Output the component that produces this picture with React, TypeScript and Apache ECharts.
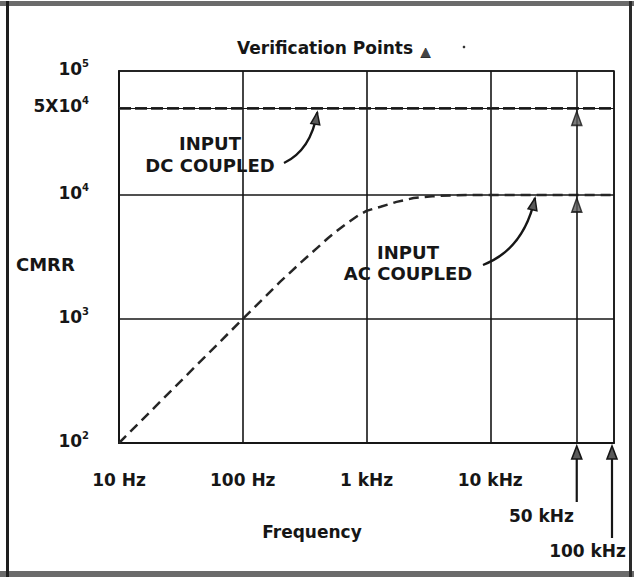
import { useEffect, useRef } from 'react';
import * as echarts from 'echarts';

const FONT = '"DejaVu Sans", "Liberation Sans", sans-serif';
const INK = '#161616';

// Axis ticks
const xTickValues = [10, 100, 1000, 10000];
const xTickLabels = ['10 Hz', '100 Hz', '1 kHz', '10 kHz'];
const yTickValues = [100, 1000, 10000, 100000];
const yTickExponents = ['2', '3', '4', '5'];

// Input AC coupled CMRR curve (frequency in Hz, CMRR)
const acFreq = [10, 100, 200, 300, 400, 490, 600, 700, 850, 1000, 1300, 1750, 2400, 3400, 5000, 7000, 10000, 50000, 100000];
const acCmrr = [100, 1000, 1990, 2900, 3750, 4500, 5300, 5950, 6800, 7450, 8050, 8800, 9450, 9770, 9950, 10000, 10000, 10000, 10000];

// Input DC coupled CMRR
const dcFreq = [10, 100000];
const dcCmrr = [50000, 50000];
const dcLevelLabel = { mant: '5X10', exp: '4' };

// Verification points
const verifyFreq = [50000, 50000];
const verifyCmrr = [50000, 10000];

// Marked frequencies below the axis
const markerFreqs = [50000, 100000];
const markerLabels = ['50 kHz', '100 kHz'];

// Annotation arrow targets (frequency, CMRR)
const dcArrowTarget = [400, 50000];
const acArrowTarget = [23000, 10000];

const richY = {
  b: { fontFamily: FONT, fontWeight: 'bold', fontSize: 17, color: INK, lineHeight: 20 },
  s: { fontFamily: FONT, fontWeight: 'bold', fontSize: 10, color: INK, lineHeight: 11, verticalAlign: 'top' },
};

function arrowHead(tip: number[], from: number[], len: number, half: number) {
  const dx = tip[0] - from[0];
  const dy = tip[1] - from[1];
  const d = Math.sqrt(dx * dx + dy * dy) || 1;
  const ux = dx / d, uy = dy / d;
  const bx = tip[0] - ux * len, by = tip[1] - uy * len;
  return [
    [tip[0], tip[1]],
    [bx - uy * half, by + ux * half],
    [bx + uy * half, by - ux * half],
  ];
}

export default function App() {
  const ref = useRef<HTMLDivElement>(null);
  useEffect(() => {
    if (!ref.current) return;
    const chart = echarts.init(ref.current, null, { renderer: 'svg' });
    chart.setOption({
      animation: false,
      backgroundColor: '#ffffff',
      grid: { left: 119, right: 20, top: 71, bottom: 135, show: true, borderColor: INK, borderWidth: 1.5 },
      xAxis: {
        type: 'log',
        logBase: 10,
        min: 10,
        max: 100000,
        axisLine: { show: true, lineStyle: { color: INK, width: 2 } },
        axisTick: { show: false },
        splitLine: { show: true, lineStyle: { color: INK, width: 1.6 } },
        axisLabel: {
          margin: 28,
          fontFamily: FONT,
          fontWeight: 'bold',
          fontSize: 17,
          color: INK,
          formatter: (v: number) => {
            const i = xTickValues.findIndex((t) => Math.abs(t - v) / t < 1e-6);
            return i >= 0 ? xTickLabels[i] : '';
          },
        },
      },
      yAxis: {
        type: 'log',
        logBase: 10,
        min: 100,
        max: 100000,
        axisLine: { show: true, lineStyle: { color: INK, width: 2 } },
        axisTick: { show: false },
        splitLine: { show: true, lineStyle: { color: INK, width: 1.6 } },
        axisLabel: {
          margin: 30,
          padding: [0, 0, 5, 0],
          formatter: (v: number) => {
            const i = yTickValues.findIndex((t) => Math.abs(t - v) / t < 1e-6);
            return i >= 0 ? `{b|10}{s|${yTickExponents[i]}}` : '';
          },
          rich: richY,
        },
      },
      series: [
        {
          name: 'Input DC coupled',
          type: 'line',
          data: dcFreq.map((f, i) => [f, dcCmrr[i]]),
          showSymbol: false,
          lineStyle: { color: '#262626', width: 2.6, type: [12, 4] },
          z: 4,
          markLine: {
            silent: true,
            symbol: ['none', 'none'],
            lineStyle: { color: INK, width: 1.2, type: 'solid' },
            label: { show: false },
            data: [
              {
                yAxis: dcCmrr[0],
                label: {
                  show: true,
                  position: 'start',
                  distance: 30,
                  padding: [0, 0, 5, 0],
                  formatter: `{b|${dcLevelLabel.mant}}{s|${dcLevelLabel.exp}}`,
                  rich: richY,
                },
              },
              { xAxis: markerFreqs[0], lineStyle: { width: 1.6 } },
            ],
          },
        },
        {
          name: 'Input AC coupled',
          type: 'line',
          data: acFreq.map((f, i) => [f, acCmrr[i]]),
          showSymbol: false,
          smooth: false,
          lineStyle: { color: '#262626', width: 2.5, type: [10, 6] },
          z: 4,
        },
        {
          name: 'Verification points',
          type: 'scatter',
          data: verifyFreq.map((f, i) => [f, verifyCmrr[i]]),
          symbol: 'triangle',
          symbolSize: [10, 14],
          symbolOffset: [0, 10],
          itemStyle: { color: '#5a5a5a', borderColor: INK, borderWidth: 1.6 },
          z: 5,
        },
      ],
    });

    const px = (p: number[]) => chart.convertToPixel({ xAxisIndex: 0, yAxisIndex: 0 }, p) as number[];
    const graphics: any[] = [];

    // frame
    graphics.push(
      { type: 'rect', shape: { x: 0, y: 1, width: 634, height: 5 }, style: { fill: '#6b6b6b' } },
      { type: 'rect', shape: { x: 0, y: 571, width: 634, height: 6 }, style: { fill: '#6b6b6b' } },
      { type: 'rect', shape: { x: 6, y: 1, width: 3, height: 576 }, style: { fill: '#1e1e1e' } },
      { type: 'rect', shape: { x: 629, y: 1, width: 3, height: 576 }, style: { fill: '#2a2a2a' } },
    );

    // title
    graphics.push(
      {
        type: 'text',
        x: 237,
        y: 48,
        style: { text: 'Verification Points', fontFamily: FONT, fontWeight: 'bold', fontSize: 17, fill: INK, verticalAlign: 'middle' },
      },
      {
        type: 'text',
        x: 421,
        y: 58,
        style: { text: '▲', fontFamily: FONT, fontSize: 12, fill: '#444', stroke: INK, lineWidth: 0.8, verticalAlign: 'bottom' },
      },
      { type: 'circle', shape: { cx: 464, cy: 47, r: 1.3 }, style: { fill: '#333' } },
    );

    // axis names
    graphics.push(
      {
        type: 'text',
        x: 16,
        y: 264,
        style: { text: 'CMRR', fontFamily: FONT, fontWeight: 'bold', fontSize: 18, fill: INK, verticalAlign: 'middle' },
      },
      {
        type: 'text',
        x: 312,
        y: 532,
        style: { text: 'Frequency', fontFamily: FONT, fontWeight: 'bold', fontSize: 17, fill: INK, align: 'center', verticalAlign: 'middle' },
      },
    );

    // marker arrows below the axis
    const markerTails = [502, 538];
    const markerTextY = [516, 551];
    const markerTextRight = [574, 626];
    markerFreqs.forEach((f, i) => {
      const p = px([f, yTickValues[0]]);
      const x = Math.min(p[0], 612);
      const tipY = p[1] + 3;
      graphics.push(
        { type: 'line', shape: { x1: x, y1: tipY + 8, x2: x, y2: markerTails[i] }, style: { stroke: INK, lineWidth: 2.2 } },
        { type: 'polygon', shape: { points: [[x, tipY], [x - 5, tipY + 13], [x + 5, tipY + 13]] }, style: { fill: '#5a5a5a', stroke: INK, lineWidth: 1.6 } },
        {
          type: 'text',
          x: markerTextRight[i],
          y: markerTextY[i],
          style: { text: markerLabels[i], fontFamily: FONT, fontWeight: 'bold', fontSize: 17, fill: INK, align: 'right', verticalAlign: 'middle' },
        },
      );
    });

    // annotations
    graphics.push(
      {
        type: 'text',
        x: 210,
        y: 154,
        style: { text: 'INPUT\nDC COUPLED', fontFamily: FONT, fontWeight: 'bold', fontSize: 18, lineHeight: 22, fill: INK, align: 'center', verticalAlign: 'middle' },
      },
      {
        type: 'text',
        x: 408,
        y: 263,
        style: { text: 'INPUT\nAC COUPLED', fontFamily: FONT, fontWeight: 'bold', fontSize: 18, lineHeight: 21, fill: INK, align: 'center', verticalAlign: 'middle' },
      },
    );

    const dcTip = px(dcArrowTarget);
    const dcT = [dcTip[0], dcTip[1] + 4];
    const dcTail = [284, 163];
    const dcCp = [311, 150];
    const acTip = px(acArrowTarget);
    const acT = [acTip[0], acTip[1] + 3];
    const acTail = [483, 265];
    const acCp = [524, 249];
    [[dcTail, dcCp, dcT], [acTail, acCp, acT]].forEach(([tail, cp, tip]) => {
      graphics.push(
        {
          type: 'bezierCurve',
          shape: { x1: tail[0], y1: tail[1], x2: tip[0], y2: tip[1], cpx1: cp[0], cpy1: cp[1] },
          style: { stroke: INK, lineWidth: 2.4, fill: null },
        },
        {
          type: 'polygon',
          shape: { points: arrowHead(tip, cp, 12, 4.5) },
          style: { fill: '#5a5a5a', stroke: INK, lineWidth: 1.5 },
        },
      );
    });

    chart.setOption({ graphic: graphics });
    return () => chart.dispose();
  }, []);
  return <div ref={ref} style={{ position: 'absolute', left: 0, top: 0, width: 634, height: 578, background: '#fff' }} />;
}
